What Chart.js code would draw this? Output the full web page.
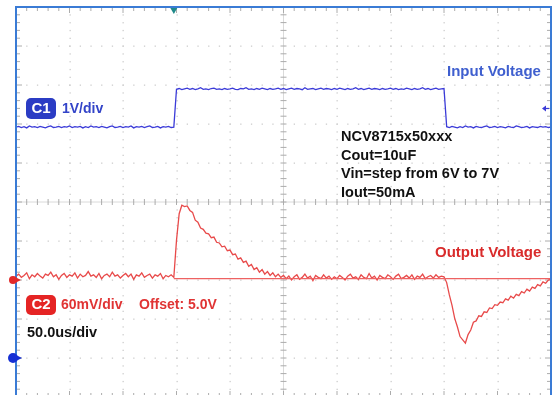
<!DOCTYPE html>
<html>
<head>
<meta charset="utf-8">
<script src="https://cdn.jsdelivr.net/npm/chart.js@4.4.0/dist/chart.umd.min.js"></script>
<style>
  html, body { margin: 0; padding: 0; background: #fff; overflow: hidden; }
  canvas { display: block; }
</style>
</head>
<body>
<canvas id="scope" width="553" height="400"></canvas>
<script>
// time base: 10 div x 50 us, one sample every 2.5 us
const timeDiv = 50;
const sampleStep = 2.5;
const sampleTimes = Array.from({ length: 201 }, (_, i) => i * sampleStep);

// C1 - input voltage (V), 1V/div
const inputVolts = [
  5.92, 5.94, 5.91, 5.93, 5.90, 5.95, 5.92, 5.93, 5.91, 5.94, 5.92, 5.90, 5.93, 5.95, 5.91, 5.92, 5.94, 5.91, 5.93, 5.92,
  5.95, 5.91, 5.93, 5.92, 5.94, 5.90, 5.93, 5.91, 5.95, 5.92, 5.93, 5.91, 5.94, 5.92, 5.90, 5.93, 5.95, 5.91, 5.92, 5.94,
  5.91, 5.93, 5.92, 5.95, 5.90, 5.93, 5.92, 5.94, 5.91, 5.93, 5.95, 5.91, 5.92, 5.94, 5.90, 5.93, 5.92, 5.94, 5.91, 5.92,
  6.89, 6.91, 6.88, 6.90, 6.92, 6.89, 6.91, 6.88, 6.90, 6.93, 6.89, 6.90, 6.88, 6.91, 6.92, 6.89, 6.90, 6.88, 6.91, 6.89,
  6.90, 6.92, 6.89, 6.88, 6.91, 6.90, 6.93, 6.89, 6.90, 6.88, 6.91, 6.89, 6.92, 6.90, 6.88, 6.91, 6.89, 6.90, 6.92, 6.89,
  6.91, 6.88, 6.90, 6.92, 6.89, 6.91, 6.90, 6.88, 6.93, 6.89, 6.90, 6.91, 6.88, 6.90, 6.92, 6.89, 6.91, 6.90, 6.88, 6.91,
  6.89, 6.92, 6.90, 6.88, 6.91, 6.89, 6.90, 6.93, 6.89, 6.91, 6.88, 6.90, 6.92, 6.89, 6.91, 6.90, 6.88, 6.91, 6.89, 6.90,
  6.92, 6.89, 6.91, 6.88, 6.90, 6.89, 6.92, 6.90, 6.88, 6.91, 6.89, 6.90, 6.93, 6.89, 6.91, 6.88, 6.90, 6.92, 6.89, 6.90,
  6.91, 5.93, 5.91, 5.94, 5.92, 5.90, 5.93, 5.91, 5.95, 5.92, 5.93, 5.90, 5.94, 5.92, 5.91, 5.93, 5.95, 5.91, 5.92, 5.94,
  5.91, 5.93, 5.92, 5.90, 5.94, 5.92, 5.91, 5.95, 5.93, 5.91, 5.92, 5.94, 5.90, 5.93, 5.92, 5.91, 5.94, 5.92, 5.93, 5.91,
  5.92
];

// C2 - output voltage (mV above the 5.0V offset), 60mV/div
const outputMv = [
  6, 9, 4, 7, 11, 2, 8, 5, 10, 6, 3, 9, 7, 12, 5, 8, 1, 7, 10, 4,
  8, 6, 11, 3, 9, 5, 7, 13, 6, 8, 4, 10, 2, 7, 9, 5, 12, 6, 8, 3,
  7, 10, 5, 9, 1, 8, 6, 11, 4, 7, 9, 3, 8, 6, 10, 2, 7, 5, 8, 4,
  61, 102, 115, 113, 114, 107, 104, 92, 89, 80, 78, 72, 71, 65, 66, 58, 57, 51, 52, 45,
  46, 39, 40, 32, 34, 27, 29, 21, 24, 16, 19, 12, 16, 9, 13, 7, 11, 5, 9, 4,
  7, 2, 6, 0, 5, 8, 1, 4, 9, 3, 6, -1, 7, 4, 2, 8, 3, 6, 1, 5,
  2, 7, 4, 0, 6, 9, 3, 5, 1, 8, 4, 2, 10, 3, 6, 0, 7, 4, 2, 8,
  5, 1, 6, 9, 2, 4, 7, 3, 8, 1, 6, 4, 9, 2, 5, 7, 3, 8, 4, 6,
  5, -4, -23, -39, -59, -72, -87, -92, -97, -84, -77, -65, -63, -55, -56, -49, -50, -43, -44, -38,
  -39, -34, -35, -29, -31, -25, -28, -22, -24, -18, -20, -14, -17, -11, -13, -7, -9, -3, -5, 0,
  1
];

// flat C2 persistence line from the trigger point on
const outputRefTimes = [147.5, 500];
const outputRefMv = [2, 2];

// markers
const triggerTime = 147.5;
const triggerLevel = 6.4;
const c1Ground = 0;
const c2Ground = 0;

const noteLines = ['NCV8715x50xxx', 'Cout=10uF', 'Vin=step from 6V to 7V', 'Iout=50mA'];

const FONT = '"Liberation Sans", Arial, sans-serif';

const graticule = {
  id: 'graticule',
  beforeDatasetsDraw(chart) {
    const { ctx, chartArea: a, scales: { x, y } } = chart;
    const cx = x.getPixelForValue(250);
    const cy = y.getPixelForValue(4);
    ctx.save();

    // dotted major grid
    ctx.fillStyle = '#cdcdcd';
    for (let d = 1; d < 10; d++) {
      if (d === 5) continue;
      const px = x.getPixelForValue(d * timeDiv);
      for (let k = 0; k <= 50; k++) {
        ctx.fillRect(Math.round(px) - 0.5, y.getPixelForValue(-1 + k * 0.2) - 0.5, 1.3, 1.3);
      }
      const py = y.getPixelForValue(-1 + d);
      for (let k = 0; k <= 50; k++) {
        ctx.fillRect(x.getPixelForValue(k * 10) - 0.5, Math.round(py) - 0.5, 1.3, 1.3);
      }
    }

    // centre cross
    ctx.strokeStyle = '#dadada';
    ctx.lineWidth = 1;
    ctx.beginPath();
    ctx.moveTo(a.left, cy); ctx.lineTo(a.right, cy);
    ctx.moveTo(cx, a.top); ctx.lineTo(cx, a.bottom);
    ctx.stroke();

    ctx.strokeStyle = '#acacac';
    ctx.beginPath();
    for (let k = 0; k <= 50; k++) {
      const px = x.getPixelForValue(k * 10);
      ctx.moveTo(px, cy - 3); ctx.lineTo(px, cy + 3);
      ctx.moveTo(px, a.top); ctx.lineTo(px, a.top + (k % 5 === 0 ? 6 : 4));
      ctx.moveTo(px, a.bottom); ctx.lineTo(px, a.bottom - (k % 5 === 0 ? 6 : 4));
      const py = y.getPixelForValue(-1 + k * 0.2);
      ctx.moveTo(cx - 3, py); ctx.lineTo(cx + 3, py);
      ctx.moveTo(a.left, py); ctx.lineTo(a.left + (k % 5 === 0 ? 6 : 4), py);
      ctx.moveTo(a.right, py); ctx.lineTo(a.right - (k % 5 === 0 ? 6 : 4), py);
    }
    ctx.stroke();
    ctx.restore();
  }
};

function box(ctx, x0, y0, w, h, r, fill) {
  ctx.fillStyle = fill;
  ctx.beginPath();
  if (ctx.roundRect) ctx.roundRect(x0, y0, w, h, r); else ctx.rect(x0, y0, w, h);
  ctx.fill();
}

const overlay = {
  id: 'overlay',
  afterDatasetsDraw(chart) {
    const { ctx, chartArea: a, scales: { x, y, y2 } } = chart;
    ctx.save();

    // frame
    ctx.strokeStyle = '#3a7bd5';
    ctx.lineWidth = 2;
    ctx.strokeRect(a.left, a.top, a.right - a.left, a.bottom - a.top);

    // trigger position
    const tx = x.getPixelForValue(triggerTime);
    ctx.fillStyle = '#1f8a8a';
    ctx.beginPath();
    ctx.moveTo(tx - 3.5, a.top + 1); ctx.lineTo(tx + 3.5, a.top + 1); ctx.lineTo(tx, a.top + 7);
    ctx.fill();

    // trigger level
    const ty = y.getPixelForValue(triggerLevel);
    ctx.fillStyle = '#3b3bd8';
    ctx.beginPath();
    ctx.moveTo(a.right - 9, ty); ctx.lineTo(a.right - 5, ty - 3); ctx.lineTo(a.right - 5, ty + 3);
    ctx.fill();
    ctx.fillRect(a.right - 6, ty - 0.5, 4, 1.2);

    // channel ground markers
    const g1 = y.getPixelForValue(c1Ground);
    ctx.fillStyle = '#1630d4';
    ctx.beginPath(); ctx.arc(a.left - 3, g1, 5, 0, Math.PI * 2); ctx.fill();
    ctx.beginPath(); ctx.moveTo(a.left, g1 - 3); ctx.lineTo(a.left + 6, g1); ctx.lineTo(a.left, g1 + 3); ctx.fill();
    const g2 = y2.getPixelForValue(c2Ground);
    ctx.fillStyle = '#e22a2a';
    ctx.beginPath(); ctx.arc(a.left - 3, g2, 4, 0, Math.PI * 2); ctx.fill();
    ctx.beginPath(); ctx.moveTo(a.left, g2 - 2.5); ctx.lineTo(a.left + 5, g2); ctx.lineTo(a.left, g2 + 2.5); ctx.fill();

    ctx.textBaseline = 'middle';
    ctx.textAlign = 'left';

    // channel labels
    box(ctx, 26, 98, 30, 21, 5, '#2b3cc4');
    box(ctx, 26, 295, 30, 20, 5, '#e52424');
    ctx.font = 'bold 15px ' + FONT;
    ctx.fillStyle = '#fff';
    ctx.textAlign = 'center';
    ctx.fillText('C1', 41, 109);
    ctx.fillText('C2', 41, 305);
    ctx.textAlign = 'left';

    ctx.font = 'bold 14px ' + FONT;
    ctx.fillStyle = '#3344c8';
    ctx.fillText('1V/div', 62, 109);
    ctx.fillStyle = '#e03434';
    ctx.fillText('60mV/div', 61, 305);
    ctx.fillText('Offset: 5.0V', 139, 305);

    ctx.font = 'bold 15px ' + FONT;
    ctx.fillStyle = '#3f5fcf';
    ctx.fillText('Input Voltage', 447, 72);
    ctx.fillStyle = '#d92b2b';
    ctx.fillText('Output Voltage', 435, 253);

    ctx.font = 'bold 14.5px ' + FONT;
    ctx.fillStyle = '#111';
    ctx.fillText('50.0us/div', 27, 333);
    noteLines.forEach((t, i) => ctx.fillText(t, 341, 137 + i * 18.7));

    ctx.restore();
  }
};

new Chart(document.getElementById('scope'), {
  type: 'line',
  data: {
    labels: sampleTimes,
    datasets: [
      {
        label: 'Output ref',
        data: outputRefTimes.map((t, i) => ({ x: t, y: outputRefMv[i] })),
        yAxisID: 'y2',
        borderColor: '#ee6262',
        borderWidth: 1.2
      },
      {
        label: 'Output Voltage',
        data: outputMv,
        yAxisID: 'y2',
        borderColor: '#e84a4a',
        borderWidth: 1.3
      },
      {
        label: 'Input Voltage',
        data: inputVolts,
        yAxisID: 'y',
        borderColor: '#3b3bd8',
        borderWidth: 1.3
      }
    ]
  },
  options: {
    responsive: false,
    animation: false,
    devicePixelRatio: 1,
    layout: { padding: { left: 16, top: 7, right: 2, bottom: 3 } },
    elements: { point: { radius: 0 }, line: { tension: 0 } },
    plugins: { legend: { display: false }, tooltip: { enabled: false } },
    scales: {
      x: { type: 'linear', min: 0, max: 500, display: false },
      y: { min: -1, max: 9, display: false },
      y2: { min: -180, max: 420, display: false }
    }
  },
  plugins: [graticule, overlay]
});
</script>
</body>
</html>
